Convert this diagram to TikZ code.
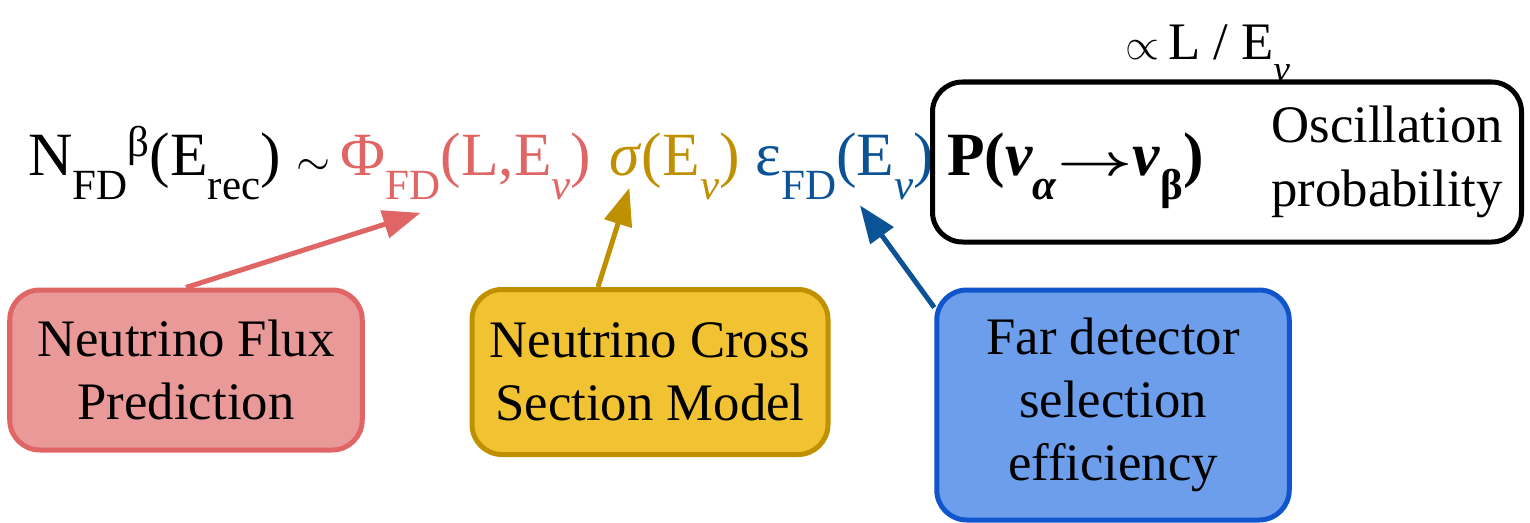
\documentclass[tikz,border=0pt]{standalone}
\usepackage{fontspec}
\setmainfont{Liberation Serif}
\usetikzlibrary{arrows.meta,positioning}
\definecolor{fluxtext}{HTML}{E06666}
\definecolor{fluxfill}{HTML}{EA9999}
\definecolor{xsectext}{HTML}{BF9000}
\definecolor{xsecfill}{HTML}{F1C232}
\definecolor{efftext}{HTML}{0B5394}
\definecolor{effline}{HTML}{1155CC}
\definecolor{efffill}{HTML}{6D9EEB}
\newcommand\lo[1]{\raisebox{-0.4em}{\scalebox{0.7}{#1}}}
\newcommand\hi[1]{\raisebox{0.3em}{\scalebox{0.7}{#1}}}
\newcommand\nusub{\lo{\textit{ν}}}
\tikzset{
  eqtext/.style={inner sep=0pt,font=\fontsize{35}{40}\selectfont},
  boxtext/.style={align=center,font=\fontsize{30}{36}\selectfont},
  infobox/.style={boxtext,rounded corners=0.6cm,line width=0.1cm,minimum width=7.05cm,minimum height=3.2cm},
}
\begin{document}
\begin{tikzpicture}[>={Triangle[length=0.75cm,width=0.56cm]}]
\useasboundingbox (0,0) rectangle (30.6,10.44);
% the event rate
\node[eqtext,anchor=base west] (lhs) at (0.56,6.94) {N\lo{FD}\hi{β}(E\lo{rec}) $\sim$};
\node[eqtext,text=fluxtext,base right=0.2cm of lhs] (flux) {Φ\lo{FD}(L,E\nusub)};
\node[eqtext,text=xsectext,base right=0.35cm of flux] (xsec) {\textit{σ}(E\nusub)};
\node[eqtext,text=efftext,base right=0.3cm of xsec] (eff) {ε\lo{FD}(E\nusub)};

% oscillation part
\node[draw,rounded corners=0.6cm,line width=0.1cm,minimum width=11.78cm,minimum height=3.2cm] (osc) at (24.54,7.2) {};
\node[eqtext,font=\fontsize{35}{40}\selectfont\bfseries,base right=0.25cm of eff] (prob) {P(\textit{ν}\lo{\textit{α}}\scalebox{1.5}[1]{\boldmath$\rightarrow$}\textit{ν}\lo{β})};
\node[boxtext,anchor=east] (osctxt) at ([xshift=-0.3cm]osc.east) {Oscillation\\probability};
\node[boxtext,anchor=base west,inner sep=0pt] (prop) at (22.5,9.24) {$\propto$\,L / E\nusub};

% the inputs
\node[infobox,draw=fluxtext,fill=fluxfill] (fluxbox) at (3.72,3.04) {Neutrino Flux\\Prediction};
\node[infobox,draw=xsectext,fill=xsecfill,minimum width=7.12cm,minimum height=3.3cm] (xsecbox) at (13,3) {Neutrino Cross\\Section Model};
\node[infobox,draw=effline,fill=efffill,minimum height=4.6cm] (effbox) at (22.26,2.34) {Far detector\\selection\\efficiency};

\draw[->,fluxtext,line width=0.1cm] (fluxbox.north) -- ([xshift=1.6cm,yshift=-0.25cm]flux.south west);
\draw[->,xsectext,line width=0.1cm] ([xshift=-1.04cm]xsecbox.north) -- ([xshift=0.4cm,yshift=0.25cm]xsec.south west);
\draw[->,efftext,line width=0.1cm] ([yshift=-0.4cm]effbox.north west) -- ([xshift=2.1cm,yshift=-0.1cm]eff.south west);
\end{tikzpicture}
\end{document}
